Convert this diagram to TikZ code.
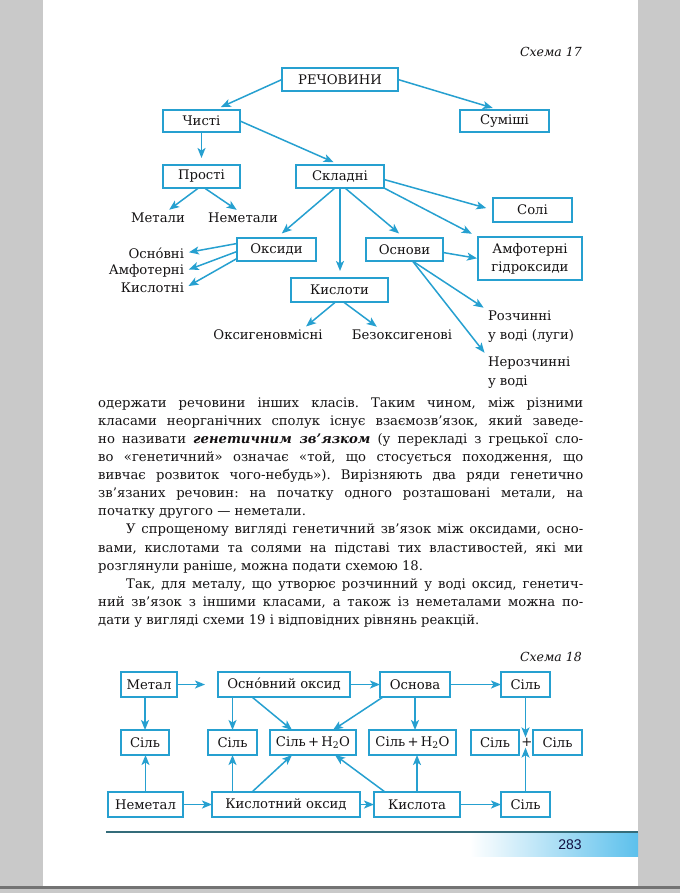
\documentclass[tikz,border=0pt]{standalone}
\usepackage{fontspec}
\setmainfont{DejaVu Serif}
\newfontfamily\pagenumfont{Liberation Sans}
\usetikzlibrary{arrows.meta}
\definecolor{schemeblue}{RGB}{38,160,208}
\definecolor{inkdark}{RGB}{20,18,19}
\definecolor{sidegray}{RGB}{201,201,201}
\definecolor{rulecolor}{RGB}{52,108,122}
\definecolor{barblue}{RGB}{92,192,236}
\tikzset{
  box/.style={draw=schemeblue, line width=1.4pt, inner sep=2pt, outer sep=0pt,
    minimum height=23pt, text=inkdark, font=\fontsize{13.2}{15}\selectfont},
  lbl/.style={inner sep=1pt, outer sep=0pt, text=inkdark,
    font=\fontsize{13.2}{18.5}\selectfont},
  arr/.style={draw=schemeblue, line width=1.5pt, -{Stealth[length=10pt,width=8pt,inset=2.5pt]}},
  schemetitle/.style={anchor=east, inner sep=0pt, text=inkdark,
    font=\fontsize{12.5}{12.5}\selectfont\itshape}
}
\frenchspacing
\begin{document}
\begin{tikzpicture}[x=1pt,y=-1pt]
      \useasboundingbox (0,0) rectangle (680,893);
      \fill[white] (0,0) rectangle (680,893);
      \fill[sidegray] (0,0) rectangle (43,893);
      \fill[sidegray] (638,0) rectangle (680,893);
      \fill[black!55] (0,886) rectangle (680,889);
      \fill[sidegray] (0,889) rectangle (680,893);
      % scheme 17
      \draw
        (582,52) node[schemetitle] (title17) {Схема 17}
        (340,79.5) node[box, minimum width=116pt] (rech) {РЕЧОВИНИ}
        (201.5,121) node[box, minimum width=77pt, minimum height=22pt] (chysti) {Чисті}
        (504.5,121) node[box, minimum width=89pt, minimum height=22pt] (sumishi) {Суміші}
        (201.5,176.5) node[box, minimum width=77pt] (prosti) {Прості}
        (340,176.5) node[box, minimum width=88pt] (skladni) {Складні}
        (532.5,210) node[box, minimum width=79pt, minimum height=24pt] (soli) {Солі}
        (276.5,249.5) node[box, minimum width=79pt] (oksydy) {Оксиди}
        (404.5,249.5) node[box, minimum width=77pt] (osnovy) {Основи}
        (530,258.5) node[box, minimum width=104pt, minimum height=43pt, align=center,
          font=\fontsize{13.2}{18}\selectfont] (amf) {Амфотерні\\гідроксиди}
        (339.5,290) node[box, minimum width=97pt, minimum height=24pt] (kysloty) {Кислоти}
        (158,218) node[lbl] (metaly) {Метали}
        (243,218) node[lbl] (nemetaly) {Неметали}
        (185,253) node[lbl, anchor=east] (osnovni) {Осно́вні}
        (185,271) node[lbl, anchor=east] (amfot) {Амфотерні}
        (185,288) node[lbl, anchor=east] (kyslotni) {Кислотні}
        (268,335) node[lbl] (oksyg) {Оксигеновмісні}
        (402,335) node[lbl] (bezoks) {Безоксигенові}
        (487,326.5) node[lbl, anchor=west, align=left] (rozch) {Розчинні\\у воді (луги)}
        (487,372.5) node[lbl, anchor=west, align=left] (nerozch) {Нерозчинні\\у воді};
      \begin{scope}[arr, shorten >=7pt]
        \draw (rech.west) to ([xshift=13pt]chysti.north);
        \draw (rech.east) to ([xshift=-5pt]sumishi.north);
        \draw (chysti.south) to (prosti.north);
        \draw (chysti.east) to (skladni.north);
        \draw ([yshift=-3pt]skladni.east) to (soli.west);
        \draw ([xshift=-5pt]skladni.south) to (oksydy.north);
        \draw (skladni.south) to (skladni.south |- kysloty.north);
        \draw ([xshift=5pt]skladni.south) to (osnovy.north);
        \draw (skladni.south east) to (amf.north west);
        \draw[shorten >=1pt] ([yshift=-3pt]osnovy.east) to (amf.west);
      \end{scope}
      \begin{scope}[arr, shorten >=4pt]
        \draw ([xshift=-3pt]prosti.south) to ([xshift=8pt]metaly.north);
        \draw ([xshift=3pt]prosti.south) to ([xshift=-3pt]nemetaly.north);
        \draw ([yshift=6pt]oksydy.west) to (osnovni.east);
        \draw ([yshift=-2pt]oksydy.west) to (amfot.east);
        \draw ([yshift=-9pt]oksydy.west) to (kyslotni.east);
        \draw ([xshift=-4pt]kysloty.south) to ([xshift=35pt]oksyg.north);
        \draw ([xshift=4pt]kysloty.south) to ([xshift=-22pt]bezoks.north);
        \draw ([xshift=8pt]osnovy.south) to (rozch.north west);
        \draw ([xshift=8pt]osnovy.south) to (nerozch.north west);
      \end{scope}
      % text
      \node[anchor=north west, inner sep=0pt, text width=485pt, align=justify, text=inkdark,
        font=\fontsize{13.2}{18.1}\selectfont] (body) at (98,394.33) {%
        \hyphenpenalty=10000 \exhyphenpenalty=10000 \parindent=0pt
        \strut одержати речовини інших класів. Таким чином, між різними\linebreak
        класами неорганічних сполук існує взаємозв’язок, який заведе-\linebreak
        но називати \textbf{\textit{генетичним зв’язком}} (у перекладі з грецької сло-\linebreak
        во «генетичний» означає «той, що стосується походження, що\linebreak
        вивчає розвиток чого-небудь»). Вирізняють два ряди генетично\linebreak
        зв’язаних речовин: на початку одного розташовані метали, на\linebreak
        початку другого — неметали.\par
        \hspace*{28pt}У спрощеному вигляді генетичний зв’язок між оксидами, осно-\linebreak
        вами, кислотами та солями на підставі тих властивостей, які ми\linebreak
        розглянули раніше, можна подати схемою 18.\par
        \hspace*{28pt}Так, для металу, що утворює розчинний у воді оксид, генетич-\linebreak
        ний зв’язок з іншими класами, а також із неметалами можна по-\linebreak
        дати у вигляді схеми 19 і відповідних рівнянь реакцій.\par};
      % scheme 18
      \draw
        (582,657) node[schemetitle] (title18) {Схема 18}
        (149,684.5) node[box, minimum width=56pt, minimum height=25pt] (metal) {Метал}
        (284,684.5) node[box, minimum width=132pt, minimum height=25pt] (osnoksyd) {Осно́вний оксид}
        (415,684.5) node[box, minimum width=70pt, minimum height=25pt] (osnova) {Основа}
        (525.5,684.5) node[box, minimum width=49pt, minimum height=25pt] (silt) {Сіль}
        (145,742.5) node[box, minimum width=48pt, minimum height=25pt] (sila) {Сіль}
        (232.5,742.5) node[box, minimum width=49pt, minimum height=25pt] (silb) {Сіль}
        (313,742.5) node[box, minimum width=86pt, minimum height=25pt] (silwa) {Сіль\,+\,H\textsubscript{2}O}
        (412.5,742.5) node[box, minimum width=87pt, minimum height=25pt] (silwb) {Сіль\,+\,H\textsubscript{2}O}
        (495,742.5) node[box, minimum width=48pt, minimum height=25pt] (silc) {Сіль}
        (527,742.5) node[lbl] (plus) {+}
        (557.5,742.5) node[box, minimum width=49pt, minimum height=25pt] (sild) {Сіль}
        (145.5,804.5) node[box, minimum width=75pt, minimum height=25pt] (nemetal) {Неметал}
        (286,804.5) node[box, minimum width=148pt, minimum height=25pt] (kysoksyd) {Кислотний оксид}
        (417,804.5) node[box, minimum width=86pt, minimum height=25pt] (kyslota) {Кислота}
        (525.5,804.5) node[box, minimum width=49pt, minimum height=25pt] (silbot) {Сіль};
      \begin{scope}[arr]
        \draw[shorten >=13pt] (metal.east) to (osnoksyd.west);
        \draw (osnoksyd.east) to (osnova.west);
        \draw (osnova.east) to (silt.west);
        \draw (metal.south -| sila.north) to (sila.north);
        \draw (nemetal.north) to (nemetal.north |- sila.south);
        \draw (osnoksyd.south -| silb.north) to (silb.north);
        \draw ([xshift=-32pt]osnoksyd.south) to ([xshift=-21pt]silwa.north);
        \draw ([xshift=-32pt]osnova.south) to ([xshift=20pt]silwa.north);
        \draw (osnova.south) to (osnova.south |- silwb.north);
        \draw (silt.south) to (silt.south |- plus.north);
        \draw (silbot.north) to (silbot.north |- plus.south);
        \draw (nemetal.east) to (kysoksyd.west);
        \draw (kysoksyd.east) to (kyslota.west);
        \draw (kyslota.east) to (silbot.west);
        \draw (kysoksyd.north -| silb.south) to (silb.south);
        \draw ([xshift=-34pt]kysoksyd.north) to ([xshift=-21pt]silwa.south);
        \draw ([xshift=-32pt]kyslota.north) to ([xshift=22pt]silwa.south);
        \draw (kyslota.north) to (kyslota.north |- silwb.south);
      \end{scope}
      % footer
      \shade[left color=white, right color=barblue] (470,833) rectangle (638,856);
      \draw[rulecolor, line width=1.4pt] (106,832) -- (638,832);
      \node[inner sep=0pt, text=inkdark!80!blue, font=\pagenumfont\fontsize{14}{14}\selectfont]
        (pagenum) at (570,845) {283};
    \end{tikzpicture}
\end{document}
